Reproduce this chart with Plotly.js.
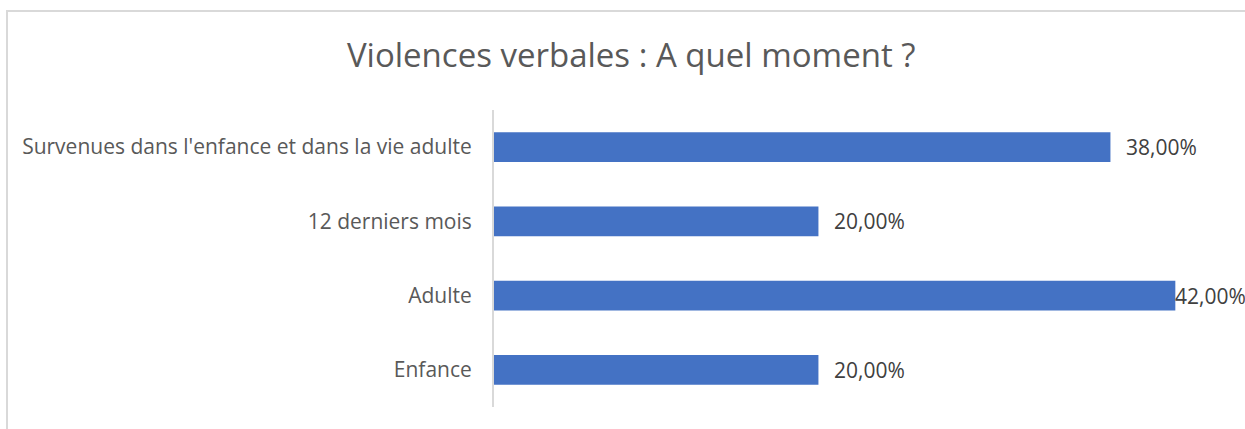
<!DOCTYPE html>
<html>
<head>
<meta charset="utf-8">
<script src="https://cdn.plot.ly/plotly-3.0.1.min.js"></script>
<style>
  body { margin: 0; background: #fff; overflow: hidden; }
  #frame { position: absolute; left: 6px; top: 10px; width: 1260px; height: 440px; border: 2px solid #d9d9d9; box-sizing: border-box; }
  #chart { position: absolute; left: 0; top: 0; width: 1245px; height: 429px; }
</style>
</head>
<body>
<div id="frame"></div>
<div id="chart"></div>
<script>
// categories from bottom to top, as plotted
const categories = ['Enfance', 'Adulte', '12 derniers mois', "Survenues dans l'enfance et dans la vie adulte"];
const shares = [0.20, 0.42, 0.20, 0.38];

const titleText = 'Violences verbales : A quel moment ?';
const textGrey = '#595959';
const fontFamily = '"Open Sans", "Noto Sans", sans-serif';

const barTrace = {
    type: 'bar',
    orientation: 'h',
    y: categories,
    x: shares,
    marker: { color: '#4472c4' },
    hoverinfo: 'none'
};

// value labels placed past the bar end; the widest bar's label is pulled back
// onto the bar so it stays inside the frame (as in the source chart)
const valueLabels = shares.map((v, i) => ({
    x: v, y: categories[i], xref: 'x', yref: 'y',
    text: (v * 100).toFixed(2).replace('.', ',') + '%',
    showarrow: false,
    xanchor: 'left',
    xshift: v > 0.4 ? -2 : 14,
    font: { family: fontFamily, size: 21, color: '#404040' }
}));

const layout = {
    width: 1245,
    height: 429,
    title: {
        text: titleText,
        font: { family: fontFamily, size: 33, color: textGrey },
        x: 0.507, xanchor: 'center',
        y: 0.87, yanchor: 'middle'
    },
    xaxis: {
        range: [0, 0.45],
        visible: false,
        fixedrange: true
    },
    yaxis: {
        type: 'category',
        showline: true,
        linecolor: '#d9d9d9',
        linewidth: 2,
        showgrid: false,
        ticks: '',
        ticklen: 0,
        ticklabelstandoff: 16,
        tickfont: { family: fontFamily, size: 21, color: textGrey },
        automargin: false,
        fixedrange: true
    },
    annotations: valueLabels,
    bargap: 0.6,
    showlegend: false,
    margin: { l: 494, r: 21, t: 110, b: 22, pad: 0 },
    paper_bgcolor: 'rgba(0,0,0,0)',
    plot_bgcolor: 'rgba(0,0,0,0)'
};

Plotly.newPlot('chart', [barTrace], layout, { displayModeBar: false, staticPlot: true });
</script>
</body>
</html>
